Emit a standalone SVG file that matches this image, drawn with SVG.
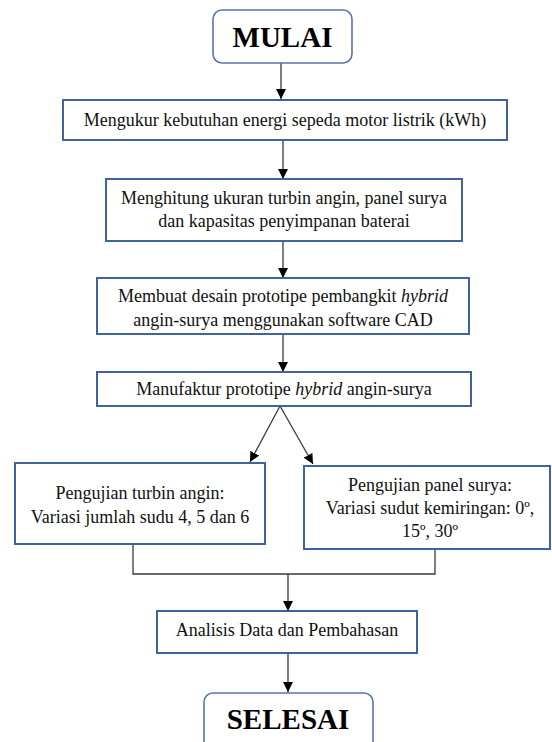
<svg xmlns="http://www.w3.org/2000/svg" width="552" height="742" viewBox="0 0 552 742">
<style>
.box{fill:#fff;stroke:#3f62a0;stroke-width:2}
.term{fill:#fff;stroke:#5874ad;stroke-width:1.6}
.t{font-family:"Liberation Serif","Times New Roman",serif;font-size:18px;fill:#111;text-anchor:middle}
.big{font-family:"Liberation Serif","Times New Roman",serif;font-size:29px;font-weight:bold;fill:#000;text-anchor:middle}
.c{stroke:#3a3a3a;stroke-width:1.3;fill:none}
</style>
<defs>
<marker id="ah" viewBox="0 0 10 10" refX="10" refY="5" markerWidth="10" markerHeight="10" markerUnits="userSpaceOnUse" orient="auto">
<path d="M0,0 L10,5 L0,10 Z" fill="#000"/>
</marker>
</defs>
<g id="connectors">
<line class="c" x1="281" y1="63" x2="281" y2="99" marker-end="url(#ah)"/>
<line class="c" x1="283" y1="140" x2="283" y2="179" marker-end="url(#ah)"/>
<line class="c" x1="283" y1="241" x2="283" y2="278" marker-end="url(#ah)"/>
<line class="c" x1="283" y1="334" x2="283" y2="372" marker-end="url(#ah)"/>
<line class="c" x1="280" y1="406" x2="250" y2="462" marker-end="url(#ah)"/>
<line class="c" x1="280" y1="406" x2="313" y2="464" marker-end="url(#ah)"/>
<polyline class="c" points="133,545 133,574 435,574 435,549"/>
<line class="c" x1="288" y1="574" x2="288" y2="611" marker-end="url(#ah)"/>
<line class="c" x1="288" y1="653" x2="288" y2="692" marker-end="url(#ah)"/>
</g>
<g id="mulai">
<rect class="term" x="213" y="10" width="139" height="53" rx="9"/>
<text class="big" x="282.5" y="47">MULAI</text>
</g>
<g id="n1">
<rect class="box" x="63" y="100" width="444" height="40"/>
<text class="t" x="285" y="126">Mengukur kebutuhan energi sepeda motor listrik (kWh)</text>
</g>
<g id="n2">
<rect class="box" x="106" y="179" width="356" height="62"/>
<text class="t" x="284" y="204">Menghitung ukuran turbin angin, panel surya</text>
<text class="t" x="284" y="227">dan kapasitas penyimpanan baterai</text>
</g>
<g id="n3">
<rect class="box" x="97" y="278" width="372" height="56"/>
<text class="t" x="283" y="302">Membuat desain prototipe pembangkit <tspan font-style="italic">hybrid</tspan></text>
<text class="t" x="283" y="326">angin-surya menggunakan software CAD</text>
</g>
<g id="n4">
<rect class="box" x="97" y="372" width="374" height="34"/>
<text class="t" x="284" y="395">Manufaktur prototipe <tspan font-style="italic">hybrid</tspan> angin-surya</text>
</g>
<g id="n5">
<rect class="box" x="15" y="463" width="250" height="81"/>
<text class="t" x="140" y="499">Pengujian turbin angin:</text>
<text class="t" x="140" y="523">Variasi jumlah sudu 4, 5 dan 6</text>
</g>
<g id="n6">
<rect class="box" x="304" y="466" width="246" height="83"/>
<text class="t" x="430" y="491">Pengujian panel surya:</text>
<text class="t" x="430" y="514">Variasi sudut kemiringan: 0º,</text>
<text class="t" x="430" y="537">15º, 30º</text>
</g>
<g id="n7">
<rect class="box" x="157" y="611" width="260" height="42"/>
<text class="t" x="287" y="636">Analisis Data dan Pembahasan</text>
</g>
<g id="selesai">
<rect class="term" x="204" y="693" width="169" height="60" rx="9"/>
<text class="big" x="288" y="729">SELESAI</text>
</g>
</svg>
